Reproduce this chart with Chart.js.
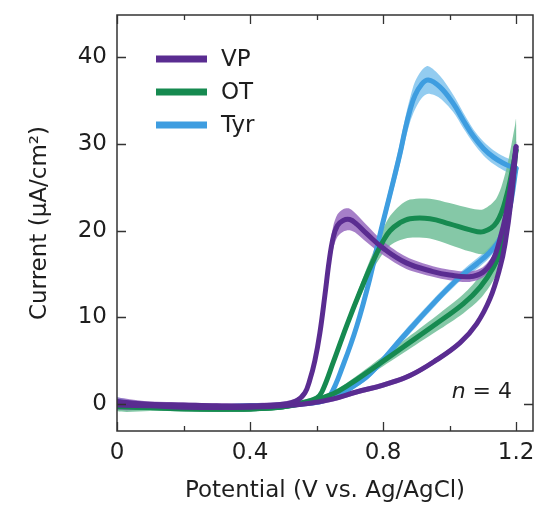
<!DOCTYPE html>
<html>
<head>
<meta charset="utf-8">
<script src="https://cdn.jsdelivr.net/npm/chart.js@4.4.1/dist/chart.umd.min.js"></script>
<style>
  html, body { margin: 0; padding: 0; background: #fff; }
</style>
</head>
<body>
<canvas id="cvChart" width="539" height="506"></canvas>
<script>
// axis ticks
const X_TICKS = [0, 0.4, 0.8, 1.2];
const X_TICK_LABELS = ['0', '0.4', '0.8', '1.2'];
const X_MINOR = [0.2, 0.6, 1.0];
const Y_TICKS = [0, 10, 20, 30, 40];
const Y_TICK_LABELS = ['0', '10', '20', '30', '40'];

// VP, forward scan (0 -> 1.2 V)
const VP_FWD_X = [0, 0.05, 0.1, 0.2, 0.3, 0.4, 0.5, 0.54, 0.565, 0.58, 0.595, 0.61, 0.625, 0.638, 0.65, 0.663, 0.68, 0.7, 0.72, 0.75, 0.8, 0.87, 0.95, 1.0, 1.06, 1.1, 1.13, 1.15, 1.17, 1.19, 1.2];
const VP_FWD_Y = [0.3, 0.1, 0.0, -0.1, -0.2, -0.2, 0.0, 0.4, 1.3, 2.8, 5.0, 8.2, 12.5, 16.5, 19.2, 20.6, 21.2, 21.3, 20.8, 19.7, 18.0, 16.3, 15.3, 14.9, 14.7, 15.2, 16.6, 18.8, 22.0, 26.8, 29.7];
const VP_FWD_SD = [0.5, 0.4, 0.3, 0.3, 0.3, 0.3, 0.3, 0.3, 0.4, 0.5, 0.7, 0.9, 1.1, 1.2, 1.3, 1.3, 1.3, 1.25, 1.1, 1.0, 0.8, 0.7, 0.6, 0.6, 0.6, 0.6, 0.6, 0.6, 0.6, 0.6, 0.6];
// VP, reverse scan (1.2 -> 0 V)
const VP_REV_X = [1.2, 1.185, 1.167, 1.152, 1.122, 1.082, 1.032, 0.961, 0.881, 0.8, 0.72, 0.65, 0.58, 0.5, 0.4, 0.3, 0.2, 0.1, 0];
const VP_REV_Y = [29.7, 23.5, 18.5, 15.8, 12.2, 9.3, 7.1, 5.1, 3.3, 2.2, 1.4, 0.6, 0.1, -0.2, -0.35, -0.4, -0.35, -0.2, -0.1];
const VP_REV_SD = [0.6, 0.5, 0.4, 0.4, 0.4, 0.3, 0.3, 0.3, 0.3, 0.3, 0.3, 0.3, 0.3, 0.3, 0.3, 0.3, 0.3, 0.4, 0.5];

// OT
const OT_FWD_X = [0, 0.05, 0.1, 0.2, 0.3, 0.4, 0.5, 0.56, 0.6, 0.616, 0.651, 0.691, 0.731, 0.771, 0.8, 0.821, 0.85, 0.881, 0.941, 1.0, 1.062, 1.102, 1.142, 1.172, 1.197, 1.2];
const OT_FWD_Y = [-0.2, -0.3, -0.4, -0.5, -0.55, -0.55, -0.3, 0.2, 0.7, 1.4, 4.9, 9.1, 13.0, 16.6, 18.8, 20.0, 20.9, 21.4, 21.4, 20.8, 20.1, 19.9, 21.0, 24.1, 28.7, 29.3];
const OT_FWD_SD = [0.5, 0.4, 0.3, 0.3, 0.3, 0.3, 0.3, 0.3, 0.3, 0.3, 0.4, 0.5, 0.7, 1.0, 1.4, 1.7, 2.0, 2.2, 2.3, 2.4, 2.5, 2.6, 2.8, 3.2, 3.5, 3.6];
const OT_REV_X = [1.2, 1.18, 1.157, 1.132, 1.092, 1.042, 0.961, 0.861, 0.761, 0.7, 0.65, 0.58, 0.5, 0.4, 0.3, 0.2, 0.1, 0];
const OT_REV_Y = [29.3, 22.5, 18.1, 15.8, 13.5, 11.6, 9.3, 6.6, 3.9, 2.3, 1.2, 0.3, -0.3, -0.55, -0.6, -0.55, -0.4, -0.3];
const OT_REV_SD = [3.0, 2.0, 1.6, 1.5, 1.35, 1.1, 0.9, 0.7, 0.5, 0.4, 0.3, 0.3, 0.3, 0.3, 0.3, 0.3, 0.4, 0.5];

// Tyr
const TYR_FWD_X = [0, 0.05, 0.1, 0.2, 0.3, 0.4, 0.5, 0.58, 0.62, 0.641, 0.681, 0.721, 0.761, 0.791, 0.821, 0.851, 0.866, 0.881, 0.896, 0.916, 0.936, 0.971, 1.011, 1.042, 1.072, 1.102, 1.132, 1.162, 1.185, 1.2];
const TYR_FWD_Y = [0.3, 0.0, -0.1, -0.2, -0.3, -0.3, -0.2, 0.2, 0.6, 1.0, 4.6, 9.0, 14.6, 19.6, 24.2, 28.9, 31.6, 33.9, 35.6, 36.9, 37.4, 36.6, 34.7, 32.7, 30.9, 29.5, 28.5, 27.8, 27.4, 27.2];
const TYR_FWD_SD = [0.5, 0.4, 0.3, 0.3, 0.3, 0.3, 0.3, 0.3, 0.3, 0.4, 0.5, 0.6, 0.7, 0.9, 1.0, 1.2, 1.3, 1.4, 1.6, 1.6, 1.6, 1.3, 1.0, 0.9, 0.8, 0.8, 0.8, 0.8, 0.8, 0.8];
const TYR_REV_X = [1.2, 1.18, 1.15, 1.12, 1.082, 1.032, 0.961, 0.861, 0.761, 0.7, 0.65, 0.6, 0.5, 0.4, 0.3, 0.2, 0.1, 0];
const TYR_REV_Y = [27.2, 22.5, 19.0, 17.5, 16.2, 14.7, 12.0, 7.8, 3.5, 1.8, 0.8, 0.2, -0.1, -0.2, -0.3, -0.3, -0.2, 0.0];
const TYR_REV_SD = [0.8, 0.6, 0.6, 0.6, 0.6, 0.5, 0.5, 0.5, 0.4, 0.3, 0.3, 0.3, 0.3, 0.3, 0.3, 0.3, 0.4, 0.5];

const SERIES_NAMES = ['VP', 'OT', 'Tyr'];
const LINE_COLORS = ['#5a2c91', '#168a50', '#3e9de0'];
const BAND_COLORS = ['rgba(150, 105, 190, 0.85)', 'rgba(112, 190, 152, 0.85)', 'rgba(135, 198, 238, 0.9)'];

const FONT = '"DejaVu Sans", sans-serif';
const INK = '#1e1e1e';

function pts(xs, ys) {
    return xs.map((x, i) => ({ x: x, y: ys[i] }));
}

function lineSet(xs, ys, color, order) {
    return {
        data: pts(xs, ys),
        showLine: true,
        borderColor: color,
        borderWidth: 5,
        pointRadius: 0,
        tension: 0.4,
        borderCapStyle: 'round',
        borderJoinStyle: 'round',
        fill: false,
        order: order
    };
}

function bandSet(xs, ys, sd, color, order) {
    const upper = xs.map((x, i) => ({ x: x, y: ys[i] + sd[i] }));
    const lower = xs.map((x, i) => ({ x: x, y: ys[i] - sd[i] })).reverse();
    return {
        data: upper.concat(lower),
        showLine: true,
        borderWidth: 0,
        borderColor: 'rgba(0,0,0,0)',
        backgroundColor: color,
        pointRadius: 0,
        tension: 0.3,
        fill: 'shape',
        order: order
    };
}

const datasets = [
    // bands (behind)
    bandSet(TYR_FWD_X, TYR_FWD_Y, TYR_FWD_SD, BAND_COLORS[2], 12),
    bandSet(TYR_REV_X, TYR_REV_Y, TYR_REV_SD, BAND_COLORS[2], 12),
    bandSet(OT_FWD_X, OT_FWD_Y, OT_FWD_SD, BAND_COLORS[1], 11),
    bandSet(OT_REV_X, OT_REV_Y, OT_REV_SD, BAND_COLORS[1], 11),
    bandSet(VP_FWD_X, VP_FWD_Y, VP_FWD_SD, BAND_COLORS[0], 10),
    bandSet(VP_REV_X, VP_REV_Y, VP_REV_SD, BAND_COLORS[0], 10),
    // mean lines
    lineSet(TYR_FWD_X, TYR_FWD_Y, LINE_COLORS[2], 3),
    lineSet(TYR_REV_X, TYR_REV_Y, LINE_COLORS[2], 3),
    lineSet(OT_FWD_X, OT_FWD_Y, LINE_COLORS[1], 2),
    lineSet(OT_REV_X, OT_REV_Y, LINE_COLORS[1], 2),
    lineSet(VP_FWD_X, VP_FWD_Y, LINE_COLORS[0], 1),
    lineSet(VP_REV_X, VP_REV_Y, LINE_COLORS[0], 1)
];

// frame, inward ticks, legend and n = 4 note
const decorPlugin = {
    id: 'decor',
    afterDatasetsDraw(chart) {
        const { ctx, chartArea: a, scales: { x, y } } = chart;
        ctx.save();
        ctx.strokeStyle = '#333';
        ctx.lineWidth = 1.5;
        ctx.strokeRect(a.left, a.top, a.right - a.left, a.bottom - a.top);

        ctx.lineWidth = 1.3;
        ctx.beginPath();
        X_TICKS.forEach(v => {
            const px = Math.round(x.getPixelForValue(v)) + 0.5;
            ctx.moveTo(px, a.bottom); ctx.lineTo(px, a.bottom - 9);
            ctx.moveTo(px, a.top); ctx.lineTo(px, a.top + 9);
        });
        X_MINOR.forEach(v => {
            const px = Math.round(x.getPixelForValue(v)) + 0.5;
            ctx.moveTo(px, a.bottom); ctx.lineTo(px, a.bottom - 5);
            ctx.moveTo(px, a.top); ctx.lineTo(px, a.top + 5);
        });
        Y_TICKS.forEach(v => {
            const py = Math.round(y.getPixelForValue(v)) + 0.5;
            ctx.moveTo(a.left, py); ctx.lineTo(a.left + 9, py);
            ctx.moveTo(a.right, py); ctx.lineTo(a.right - 9, py);
        });
        ctx.stroke();

        // legend
        const rows = [59, 92, 125];
        ctx.lineWidth = 7;
        ctx.lineCap = 'butt';
        ctx.font = '23px ' + FONT;
        ctx.textBaseline = 'middle';
        ctx.textAlign = 'left';
        SERIES_NAMES.forEach((name, i) => {
            ctx.strokeStyle = LINE_COLORS[i];
            ctx.beginPath();
            ctx.moveTo(156, rows[i]);
            ctx.lineTo(207, rows[i]);
            ctx.stroke();
            ctx.fillStyle = INK;
            ctx.fillText(name, 221, rows[i] + 1);
        });

        // n = 4
        ctx.textAlign = 'right';
        ctx.font = '22px ' + FONT;
        const rest = ' = 4';
        const restW = ctx.measureText(rest).width;
        ctx.fillText(rest, 512, 392);
        ctx.font = 'italic 22px ' + FONT;
        ctx.fillText('n', 512 - restW, 392);
        ctx.restore();
    }
};

function noPad(s) {
    s.paddingTop = 0;
    s.paddingBottom = 0;
    s.paddingLeft = 0;
    s.paddingRight = 0;
}

new Chart(document.getElementById('cvChart'), {
    type: 'scatter',
    data: { datasets: datasets },
    options: {
        responsive: false,
        devicePixelRatio: 1,
        animation: false,
        layout: { padding: { top: 15, right: 6, left: 0, bottom: 0 } },
        plugins: {
            legend: { display: false },
            tooltip: { enabled: false }
        },
        scales: {
            x: {
                type: 'linear',
                min: 0,
                max: 1.251,
                grid: { display: false, drawTicks: false },
                border: { display: false },
                afterBuildTicks: s => { s.ticks = X_TICKS.map(v => ({ value: v })); },
                afterFit: s => { s.height = 75; noPad(s); },
                ticks: {
                    padding: 8,
                    maxRotation: 0,
                    color: INK,
                    font: { family: FONT, size: 23 },
                    callback: (v, i) => X_TICK_LABELS[i]
                },
                title: {
                    display: true,
                    text: 'Potential (V vs. Ag/AgCl)',
                    color: INK,
                    font: { family: FONT, size: 23 },
                    padding: { top: 0, bottom: 1 }
                }
            },
            y: {
                type: 'linear',
                min: -3.1,
                max: 44.9,
                grid: { display: false, drawTicks: false },
                border: { display: false },
                afterBuildTicks: s => { s.ticks = Y_TICKS.map(v => ({ value: v })); },
                afterFit: s => { s.width = 117; noPad(s); },
                ticks: {
                    padding: 10,
                    color: INK,
                    font: { family: FONT, size: 23 },
                    callback: (v, i) => Y_TICK_LABELS[i]
                },
                title: {
                    display: true,
                    text: 'Current (μA/cm²)',
                    color: INK,
                    font: { family: FONT, size: 23 },
                    padding: { top: 26, bottom: 0 }
                }
            }
        }
    },
    plugins: [decorPlugin]
});
</script>
</body>
</html>
